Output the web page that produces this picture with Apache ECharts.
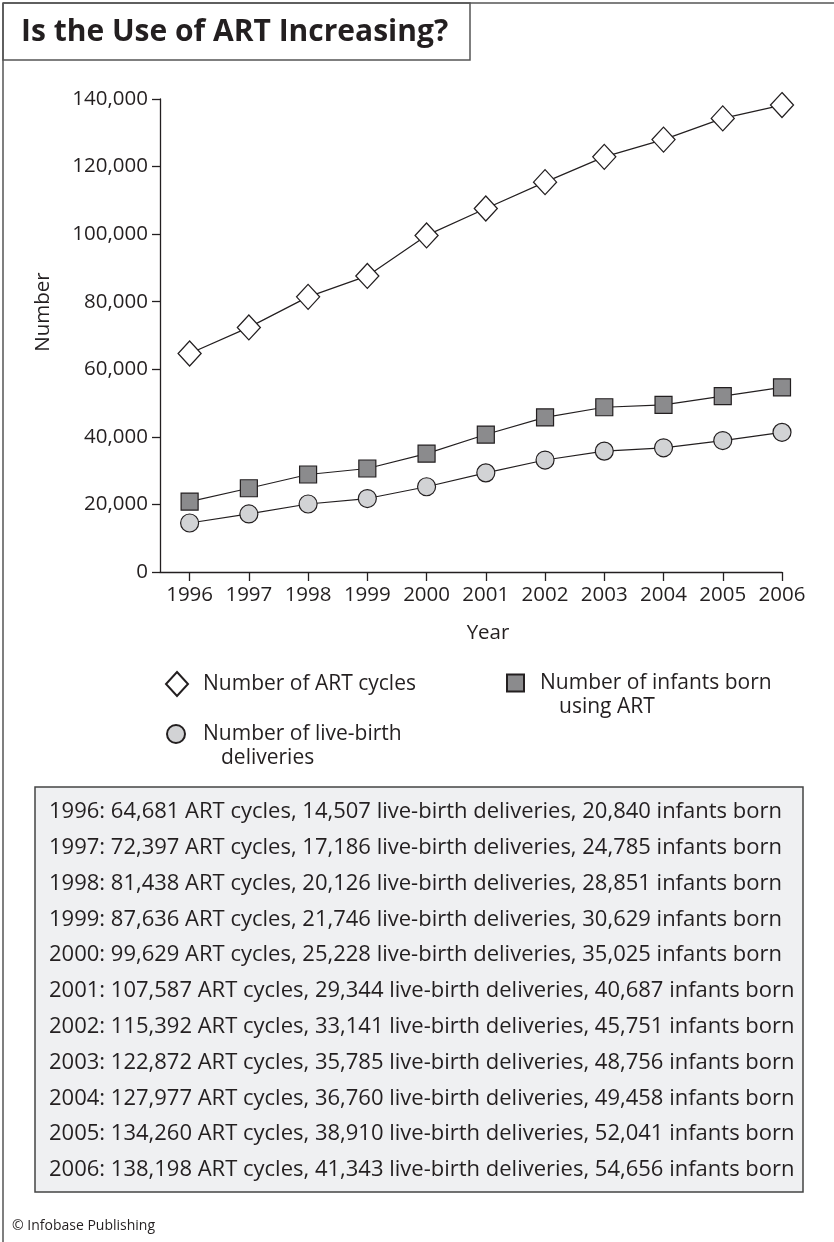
<!DOCTYPE html>
<html>
<head>
<meta charset="utf-8">
<title>Is the Use of ART Increasing?</title>
<script src="https://cdn.jsdelivr.net/npm/echarts@6/dist/echarts.min.js"></script>
<style>
  html, body { margin: 0; padding: 0; background: #ffffff; }
  #chart { width: 834px; height: 1242px; }
</style>
</head>
<body>
<div id="chart"></div>
<script>
// Assisted reproductive technology (ART) use in the US, 1996-2006
const years = [1996, 1997, 1998, 1999, 2000, 2001, 2002, 2003, 2004, 2005, 2006];
const artCycles = [64681, 72397, 81438, 87636, 99629, 107587, 115392, 122872, 127977, 134260, 138198];
const liveBirths = [14507, 17186, 20126, 21746, 25228, 29344, 33141, 35785, 36760, 38910, 41343];
const infantsBorn = [20840, 24785, 28851, 30629, 35025, 40687, 45751, 48756, 49458, 52041, 54656];
const yTicks = [0, 20000, 40000, 60000, 80000, 100000, 120000, 140000];

const seriesNames = {
  art: 'Number of ART cycles',
  live: 'Number of live-birth deliveries',
  infants: 'Number of infants born using ART'
};

const FONT = '"Open Sans", "Noto Sans", sans-serif';
const INK = '#231f20';
const fmt = v => v.toLocaleString('en-US');
const pairs = vals => years.map((y, i) => [y, vals[i]]);

const chart = echarts.init(document.getElementById('chart'), null, { renderer: 'canvas' });

// Summary rows listed under the chart
const rowTop = 812;
const rowStep = 35.8;
const tableRows = years.map((y, i) => ({
  type: 'text',
  x: 49,
  y: rowTop + i * rowStep,
  style: {
    text: y + ': ' + fmt(artCycles[i]) + ' ART cycles, ' + fmt(liveBirths[i]) +
      ' live-birth deliveries, ' + fmt(infantsBorn[i]) + ' infants born',
    font: '22px ' + FONT,
    fill: INK,
    verticalAlign: 'middle'
  }
}));

// Legend entries: two-line labels keep the icon level with the first line
const LEG_FS = 21;
const LEG_LH = 24;
const twoLine = (indent) => ({
  padding: [LEG_LH, 0, 0, 0],
  lineHeight: LEG_LH,
  rich: {
    a: { fontSize: LEG_FS, fontFamily: FONT, color: INK, lineHeight: LEG_LH },
    b: { fontSize: LEG_FS, fontFamily: FONT, color: INK, lineHeight: LEG_LH, padding: [0, 0, 0, indent] }
  }
});

const option = {
  backgroundColor: '#ffffff',
  animation: false,
  grid: { left: 160, right: 52, top: 99, bottom: 670, containLabel: false },
  xAxis: {
    type: 'value',
    min: 1995.5,
    max: 2006,
    axisLine: { show: true, lineStyle: { color: INK, width: 1.3 } },
    axisTick: { show: true, customValues: years, length: 9, lineStyle: { color: INK, width: 1.3 } },
    axisLabel: {
      customValues: years,
      formatter: v => String(v),
      color: INK,
      fontSize: 20.5,
      fontFamily: FONT,
      margin: 13
    },
    splitLine: { show: false }
  },
  yAxis: {
    type: 'value',
    min: yTicks[0],
    max: yTicks[yTicks.length - 1],
    interval: yTicks[1] - yTicks[0],
    axisLine: { show: true, lineStyle: { color: INK, width: 1.3 } },
    axisTick: { show: true, length: 8, lineStyle: { color: INK, width: 1.3 } },
    axisLabel: {
      formatter: v => fmt(v),
      color: INK,
      fontSize: 20.5,
      fontFamily: FONT,
      margin: 12
    },
    splitLine: { show: false }
  },
  legend: [
    {
      data: [seriesNames.art],
      left: 165, top: 671, padding: 0,
      icon: 'diamond', itemWidth: 22, itemHeight: 24,
      formatter: () => 'Number of ART cycles',
      textStyle: { color: INK, fontSize: LEG_FS, fontFamily: FONT, lineHeight: LEG_LH, padding: [0, 0, 0, 10] }
    },
    {
      data: [seriesNames.infants],
      left: 506, top: 647, padding: 0,
      icon: 'rect', itemWidth: 17, itemHeight: 17,
      formatter: () => '{a|Number of infants born}\n{b|using ART}',
      textStyle: Object.assign({ color: INK, fontSize: LEG_FS, fontFamily: FONT }, twoLine(19),
        { padding: [LEG_LH, 0, 0, 11] })
    },
    {
      data: [seriesNames.live],
      left: 166, top: 698, padding: 0,
      icon: 'circle', itemWidth: 18, itemHeight: 18,
      formatter: () => '{a|Number of live-birth}\n{b|deliveries}',
      textStyle: Object.assign({ color: INK, fontSize: LEG_FS, fontFamily: FONT }, twoLine(18),
        { padding: [LEG_LH, 0, 0, 13] })
    }
  ],
  series: [
    {
      name: seriesNames.art,
      type: 'line',
      data: pairs(artCycles),
      symbol: 'diamond',
      symbolSize: [23, 25],
      itemStyle: { color: '#ffffff', borderColor: INK, borderWidth: 1.3 },
      lineStyle: { color: INK, width: 1.2 },
      z: 3
    },
    {
      name: seriesNames.infants,
      type: 'line',
      data: pairs(infantsBorn),
      symbol: 'rect',
      symbolSize: 17,
      itemStyle: { color: '#8b8b8d', borderColor: INK, borderWidth: 1.2 },
      lineStyle: { color: INK, width: 1.2 },
      z: 3
    },
    {
      name: seriesNames.live,
      type: 'line',
      data: pairs(liveBirths),
      symbol: 'circle',
      symbolSize: 18,
      itemStyle: { color: '#d2d3d5', borderColor: INK, borderWidth: 1.2 },
      lineStyle: { color: INK, width: 1.2 },
      z: 3
    }
  ],
  graphic: [
    // page frame: top rule and left rule
    { type: 'line', shape: { x1: 3, y1: 3, x2: 834, y2: 3 }, style: { stroke: '#555', lineWidth: 1.5 } },
    { type: 'line', shape: { x1: 3, y1: 3, x2: 3, y2: 1242 }, style: { stroke: '#555', lineWidth: 1.5 } },
    // title box
    { type: 'rect', shape: { x: 3, y: 3, width: 467, height: 57 }, style: { fill: 'none', stroke: '#555', lineWidth: 1.5 } },
    {
      type: 'text', x: 21, y: 32,
      style: { text: 'Is the Use of ART Increasing?', font: 'bold 30px ' + FONT, fill: INK, verticalAlign: 'middle' }
    },
    // axis titles
    {
      type: 'text', x: 43, y: 312, rotation: Math.PI / 2,
      style: { text: 'Number', font: '20.5px ' + FONT, fill: INK, align: 'center', verticalAlign: 'middle' }
    },
    {
      type: 'text', x: 488, y: 633,
      style: { text: 'Year', font: '20.5px ' + FONT, fill: INK, align: 'center', verticalAlign: 'middle' }
    },
    // summary box
    {
      type: 'rect', shape: { x: 35, y: 787, width: 768, height: 405 },
      style: { fill: '#eff0f2', stroke: '#444', lineWidth: 1.5 }, z: 0
    },
    ...tableRows,
    {
      type: 'text', x: 12, y: 1226,
      style: { text: '\u00A9 Infobase Publishing', font: '14px ' + FONT, fill: INK, verticalAlign: 'middle' }
    }
  ]
};

chart.setOption(option);
</script>
</body>
</html>
